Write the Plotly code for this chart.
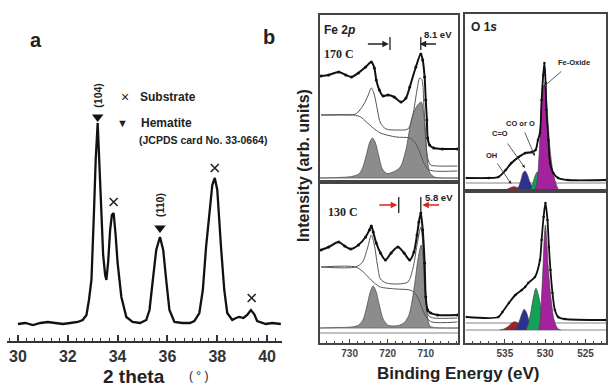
import plotly.graph_objects as go

W, H = 608, 386
FONT = "Liberation Sans, Arial, sans-serif"
SERIF = "Liberation Serif, Times New Roman, serif"


def px(x):
    return x / W


def py(y):
    return 1 - y / H


# ---------------- Panel a: XRD ----------------
two_theta = [30.0, 30.3, 30.6, 30.9, 31.2, 31.5, 31.8, 32.1, 32.4, 32.6, 32.75, 32.85,
             32.95, 33.05, 33.12, 33.2, 33.28, 33.35, 33.42, 33.5, 33.55, 33.62, 33.7,
             33.77, 33.84, 33.92, 34.0, 34.15, 34.35, 34.6, 34.9, 35.15, 35.28, 35.4,
             35.55, 35.7, 35.83, 35.95, 36.08, 36.28, 36.6, 36.9, 37.08, 37.28, 37.42,
             37.55, 37.7, 37.8, 37.9, 38.0, 38.15, 38.28, 38.4, 38.6, 38.75, 38.88,
             39.05, 39.2, 39.35, 39.48, 39.6, 39.8, 39.95, 40.2, 40.55]
xrd_intensity = [17, 18, 16, 18, 19, 18, 17, 18, 19, 21, 26, 41,
                 61, 128, 181, 218, 171, 121, 86, 66, 61, 79, 111,
                 126, 128, 106, 78, 44, 24, 19, 18, 21, 31, 58,
                 91, 104, 91, 61, 31, 19, 18, 18, 20, 28, 51,
                 94, 136, 156, 163, 151, 94, 51, 28, 21, 23, 24,
                 23, 26, 31, 27, 20, 18, 17, 18, 17]
hematite_theta = [33.2, 35.7]
hematite_mark = [224, 113]
hematite_hkl = ["(104)", "(110)"]
hkl_y = [246, 136]
substrate_theta = [33.84, 37.9, 39.38]
substrate_mark = [139, 173, 43]

# ---------------- Panel b: Fe 2p ----------------
# 170 C
fe170_raw_e = [737.5, 735.5, 732.9, 731.0, 729.5, 727.7, 725.8, 724.3, 723.5, 723.0, 722.2,
               721.2, 719.9, 718.3, 716.5, 715.2, 714.2, 712.6, 711.3, 710.8, 710.3, 710.0,
               709.7, 709.5, 709.0, 707.9, 705.6, 701.7]
fe170_raw_i = [106, 107, 110, 107, 105, 109, 115, 120, 114, 102, 92,
               86, 87, 85, 80, 84, 95, 115, 128, 122, 105, 82,
               62, 44, 37, 34, 33, 33]
fe170_env_e = [737.5, 732.9, 728.4, 726.4, 725.1, 724.3, 723.5, 722.7, 721.9, 720.4, 717.3,
               714.7, 713.4, 712.3, 711.6, 711.0, 710.5, 710.0, 709.5, 708.7, 706.9, 701.7]
fe170_env_i = [67, 67, 68, 77, 87, 94, 87, 72, 59, 53, 52,
               53, 67, 92, 104, 102, 77, 42, 24, 17, 16, 16]
fe170_bg_e = [737.5, 729.0, 727.1, 725.6, 723.8, 721.9, 717.8, 714.2, 712.9, 711.6, 710.5,
              709.5, 707.9, 701.7]
fe170_bg_i = [67, 67, 65, 60, 54, 49, 45, 44, 40, 30, 19, 13, 11, 11]
fe170_fit_e = [737.8, 733, 729.5, 727.6, 726.6, 725.6, 724.7, 724.0, 723.3, 722.4, 721.4, 720.2,
               718.6, 717.2, 716.4, 715.1, 714.2, 713.4, 712.3, 711.2, 710.3, 709.9, 709.5,
               708.9, 707.7, 705, 701.4]
fe170_fit_i = [4, 4.5, 5.5, 8, 14, 27, 40, 44, 40, 27, 13, 8.5,
               10, 13, 17, 34, 54, 67, 76, 80, 60, 37, 20,
               9, 5, 4, 4]
fe170_shift = [719.4, 711.3]

# 130 C
fe130_raw_e = [737.5, 735.5, 732.9, 731.3, 729.7, 727.7, 725.8, 724.8, 724.3, 723.8, 723.0,
               721.9, 720.6, 719.1, 717.3, 715.7, 714.2, 713.1, 712.3, 711.8, 711.3, 710.8,
               710.3, 710.0, 709.5, 708.7, 706.9, 701.7]
fe130_raw_i = [93, 96, 101, 97, 94, 98, 106, 113, 117, 111, 100,
               90, 83, 90, 96, 90, 83, 91, 108, 121, 130, 113,
               80, 46, 33, 30, 28, 28]
fe130_env_e = [737.5, 728.4, 726.6, 725.3, 724.3, 723.5, 722.7, 721.9, 720.4, 717.3, 714.7,
               713.4, 712.3, 711.3, 710.8, 710.3, 709.7, 709.2, 707.9, 701.7]
fe130_env_i = [76, 76, 81, 95, 108, 98, 78, 64, 60, 59, 61,
               74, 98, 116, 100, 55, 35, 27, 25, 25]
fe130_bg_e = [737.5, 728.4, 726.4, 725.1, 723.5, 721.9, 717.8, 714.2, 712.9, 711.8, 710.8,
              709.7, 708.4, 701.7]
fe130_bg_i = [76, 76, 71, 66, 60, 56, 54, 53, 50, 43, 33, 25, 21, 21]
fe130_fit_e = [737.8, 733, 729.5, 727.6, 726.4, 725.4, 724.5, 723.8, 723.1, 722.2, 721.2, 720.0,
               718.6, 716.8, 715.5, 714.4, 713.6, 712.8, 712.0, 711.2, 710.5, 710.0, 709.5,
               708.9, 708.0, 705, 701.4]
fe130_fit_i = [15, 15.5, 16, 18, 24, 38, 52, 57, 52, 38, 24, 18,
               17, 18, 21, 28, 42, 62, 85, 98, 80, 48, 25,
               17, 15.5, 15, 15]
fe130_shift = [717.1, 711.3]

# ---------------- Panel b: O 1s ----------------
o170_raw_e = [539.75, 537.0, 535.8, 534.9, 534.2, 533.3, 532.5, 531.7, 531.2, 530.9, 530.65,
              530.45, 530.25, 530.1, 529.95, 529.85, 529.6, 529.4, 529.0, 528.4, 527.2, 522.5]
o170_raw_i = [13, 13, 14, 21, 28, 34, 38, 39, 41, 51, 58,
              91, 116, 128, 108, 81, 51, 28, 18, 13, 11, 11]
o170_env_i = [13, 13, 14, 20, 27, 33, 37, 38, 40, 50, 60,
              90, 115, 125, 110, 82, 52, 29, 18, 13, 11, 11]
o170_base = [8, 8]
o_peak_names = ["OH", "C=O", "CO or O", "Fe-Oxide"]
o170_oh_e = [535.4, 535.0, 534.6, 534.2, 533.9, 533.5, 533.1, 532.7, 532.4]
o170_oh_i = [0, 0.8, 2.2, 3.7, 4.3, 3.6, 2.0, 0.7, 0]
o170_co_e = [533.6, 533.3, 533.0, 532.75, 532.5, 532.2, 531.9, 531.5, 531.0]
o170_co_i = [0, 4, 11, 18, 20, 16, 9, 3, 0]
o170_c_o_e = [531.9, 531.6, 531.3, 531.0, 530.7, 530.4, 530.1, 529.8]
o170_c_o_i = [0, 6, 14, 19, 15, 8, 3, 0]
o170_feo_e = [531.3, 531.0, 530.8, 530.6, 530.4, 530.15, 529.9, 529.65, 529.4, 529.1, 528.8, 528.4, 528.1]
o170_feo_i = [0, 10, 30, 62, 92, 106, 97, 68, 41, 22, 11, 2, 0]

o130_raw_e = [539.75, 535.8, 535.3, 534.5, 533.7, 532.9, 532.5, 532.1, 531.27, 530.65, 530.45,
              530.2, 529.97, 529.72, 529.54, 529.35, 529.1, 528.8, 528.4, 527.6, 522.5]
o130_raw_i = [26, 26, 31, 40, 48, 53, 56, 60, 66, 83, 103,
              126, 140, 123, 96, 73, 50, 33, 26, 24, 23]
o130_base = [20, 20]
o130_oh_e = [535.6, 535.1, 534.6, 534.2, 533.8, 533.4, 533.0, 532.6, 532.3]
o130_oh_i = [13, 14, 16.5, 19.5, 21.3, 20, 17, 14.5, 13]
o130_co_e = [533.8, 533.5, 533.2, 532.9, 532.6, 532.3, 532.0, 531.7, 531.4]
o130_co_i = [13, 16, 22, 29, 33.7, 30, 22, 16, 13]
o130_c_o_e = [532.4, 532.1, 531.8, 531.5, 531.15, 530.85, 530.5, 530.2, 529.8, 529.4]
o130_c_o_i = [13, 19, 30, 44, 54.7, 48, 34, 22, 15, 13]
o130_feo_e = [530.8, 530.65, 530.45, 530.25, 530.1, 529.97, 529.8, 529.63, 529.3, 528.9, 528.5, 528.1]
o130_feo_i = [13, 20, 46, 80, 108, 118, 100, 76, 46, 23, 15, 13]

FE_RANGE = [737.8, 701.4]
O_RANGE = [539.88, 522.47]
fill_colors = ["#a3202a", "#2e318f", "#14a058", "#a5229f"]

fig = go.Figure()

# XRD
fig.add_trace(go.Scatter(x=two_theta, y=xrd_intensity, mode="lines",
                         line=dict(color="#111", width=2.3), xaxis="x", yaxis="y"))
fig.add_trace(go.Scatter(x=hematite_theta, y=hematite_mark, mode="markers",
                         marker=dict(symbol="triangle-down", size=10, color="#111"),
                         xaxis="x", yaxis="y"))
fig.add_trace(go.Scatter(x=substrate_theta, y=substrate_mark, mode="markers",
                         marker=dict(symbol="x-thin", size=8, line=dict(width=1.6, color="#222")),
                         xaxis="x", yaxis="y"))


def line(xs, ys, xa, ya, color="#111", width=1.0, shape="spline", mode="lines", msize=3):
    fig.add_trace(go.Scatter(x=xs, y=ys, mode=mode, xaxis=xa, yaxis=ya,
                             line=dict(color=color, width=width, shape=shape, smoothing=0.8),
                             marker=dict(size=msize, color=color)))


def filled(xs, ys, xa, ya, color, outline="#444"):
    fig.add_trace(go.Scatter(x=xs, y=ys, mode="lines", fill="toself", fillcolor=color,
                             xaxis=xa, yaxis=ya,
                             line=dict(color=outline, width=0.7, shape="spline", smoothing=0.8)))


# Fe 2p 170 C (x2/y2)
filled(fe170_fit_e, fe170_fit_i, "x2", "y2", "#8c8c8c")
line([FE_RANGE[0], FE_RANGE[1]], [4, 4], "x2", "y2", "#666", 0.8, "linear")
line(fe170_bg_e, fe170_bg_i, "x2", "y2", "#555", 1.0)
line(fe170_env_e, fe170_env_i, "x2", "y2", "#555", 1.0)
line(fe170_raw_e, fe170_raw_i, "x2", "y2", "#111", 2.0, "spline", "lines+markers", 3)

# Fe 2p 130 C (x3/y3)
filled(fe130_fit_e, fe130_fit_i, "x3", "y3", "#8c8c8c")
line([FE_RANGE[0], FE_RANGE[1]], [15, 15], "x3", "y3", "#666", 0.8, "linear")
line([FE_RANGE[0], FE_RANGE[1]], [10, 10], "x3", "y3", "#666", 0.8, "linear")
line(fe130_bg_e, fe130_bg_i, "x3", "y3", "#555", 1.0)
line(fe130_env_e, fe130_env_i, "x3", "y3", "#555", 1.0)
line(fe130_raw_e, fe130_raw_i, "x3", "y3", "#111", 2.0, "spline", "lines+markers", 3)

# O 1s 170 C (x4/y4)
line([O_RANGE[0], O_RANGE[1]], o170_base, "x4", "y4", "#666", 0.8, "linear")
for (ex, iy), c in zip([(o170_oh_e, o170_oh_i), (o170_co_e, o170_co_i),
                        (o170_c_o_e, o170_c_o_i), (o170_feo_e, o170_feo_i)], fill_colors):
    filled(ex, iy, "x4", "y4", c)
line(o170_raw_e, o170_env_i, "x4", "y4", "#444", 1.0)
line(o170_raw_e, o170_raw_i, "x4", "y4", "#111", 1.8, "spline", "lines+markers", 2.5)

# O 1s 130 C (x5/y5)
line([O_RANGE[0], O_RANGE[1]], [13, 13], "x5", "y5", "#666", 0.8, "linear")
line([O_RANGE[0], O_RANGE[1]], o130_base, "x5", "y5", "#666", 0.8, "linear")
for (ex, iy), c in zip([(o130_oh_e, o130_oh_i), (o130_co_e, o130_co_i),
                        (o130_c_o_e, o130_c_o_i), (o130_feo_e, o130_feo_i)], fill_colors):
    filled(ex, iy, "x5", "y5", c)
line(o130_raw_e, o130_raw_i, "x5", "y5", "#111", 1.8, "spline", "lines+markers", 2.5)

frame = dict(showline=True, linecolor="#444", linewidth=1.5, mirror=True,
             showgrid=False, zeroline=False, showticklabels=False, ticks="")
tickfont = dict(family=FONT, size=10, color="#444", weight="bold")

fig.update_layout(
    width=W, height=H, margin=dict(l=0, r=0, t=0, b=0),
    paper_bgcolor="white", plot_bgcolor="rgba(0,0,0,0)", showlegend=False,
    xaxis=dict(domain=[px(7), px(283)], range=[29.56, 40.6], anchor="y",
               showline=True, linecolor="#333", linewidth=1.5, showgrid=False, zeroline=False,
               ticks="inside", ticklen=6, tickwidth=1.5, tickcolor="#333", tick0=30, dtick=2,
               minor=dict(dtick=1 / 3, ticks="inside", ticklen=3, tickwidth=1, tickcolor="#333"),
               tickfont=dict(family=FONT, size=16, color="#333", weight="bold")),
    yaxis=dict(domain=[py(341), py(14)], range=[0, 327], visible=False),
    xaxis2=dict(domain=[px(321), px(460)], range=FE_RANGE, anchor="y2", **frame),
    yaxis2=dict(domain=[py(182), py(15)], range=[0, 167], anchor="x2", **frame),
    xaxis3=dict(domain=[px(321), px(460)], range=FE_RANGE, anchor="y3",
                showline=True, linecolor="#444", linewidth=1.5, mirror=True, showgrid=False,
                zeroline=False, ticks="inside", ticklen=4, tickwidth=1.2, tickcolor="#444",
                tick0=730, dtick=10,
                minor=dict(dtick=2, ticks="inside", ticklen=2.5, tickwidth=1, tickcolor="#444"),
                tickfont=tickfont),
    yaxis3=dict(domain=[py(343), py(182)], range=[0, 161], anchor="x3", **frame),
    xaxis4=dict(domain=[px(467), 1], range=O_RANGE, anchor="y4", **frame),
    yaxis4=dict(domain=[py(191), py(14)], range=[0, 177], anchor="x4", **frame),
    xaxis5=dict(domain=[px(467), 1], range=O_RANGE, anchor="y5",
                showline=True, linecolor="#444", linewidth=1.5, mirror=True, showgrid=False,
                zeroline=False, ticks="inside", ticklen=4, tickwidth=1.2, tickcolor="#444",
                tick0=535, dtick=5,
                minor=dict(dtick=1, ticks="inside", ticklen=2.5, tickwidth=1, tickcolor="#444"),
                tickfont=tickfont),
    yaxis5=dict(domain=[py(343), py(191)], range=[0, 152], anchor="x5", **frame),
)

ann = []


def text(x, y, t, size=12, xref="paper", yref="paper", xanchor="center", family=FONT,
         color="#222", angle=0, bold=True):
    ann.append(dict(x=x, y=y, text=(f"<b>{t}</b>" if bold else t), xref=xref, yref=yref,
                    xanchor=xanchor, yanchor="middle", showarrow=False, textangle=angle,
                    font=dict(family=family, size=size, color=color)))


# panel a texts
text(px(36), py(40), "a", 20)
text(px(270), py(37), "b", 20)
text(px(125), py(97), "×", 14, bold=False)
text(px(138), py(97), "Substrate", 12, xanchor="left")
text(px(123), py(123), "▼", 11, bold=False)
text(px(139), py(123), "Hematite", 12, xanchor="left")
text(px(137), py(140), "(JCPDS card No. 33-0664)", 10.5, xanchor="left")
for th, yy, lab in zip(hematite_theta, hkl_y, hematite_hkl):
    text(th, yy, lab, 10.5, xref="x", yref="y", angle=-90)
text(px(134), py(376), "2 theta", 19)
text(px(199), py(376), "( ° )", 12, bold=False)

# panel b titles
text(px(304), py(166), "Intensity (arb. units)", 16, angle=-90)
text(px(460), py(373), "Binding Energy (eV)", 17)

# Fe 2p labels
text(737.3, 152, "Fe 2<i>p</i>", 12, "x2", "y2", "left")
text(737.3, 128, "170 C", 12, "x2", "y2", "left", SERIF)
text(706.9, 148, "8.1 eV", 9.5, "x2", "y2")
text(736.2, 131, "130 C", 12, "x3", "y3", "left", SERIF)
text(706.4, 146, "5.8 eV", 9.5, "x3", "y3")


def arrow(x0, x1, y, xa, ya, color):
    ann.append(dict(x=x1, y=y, ax=x0, ay=y, xref=xa, yref=ya, axref=xa, ayref=ya,
                    showarrow=True, arrowhead=2, arrowsize=1, arrowwidth=1.3,
                    arrowcolor=color, text=""))


arrow(725.6, 719.7, 138, "x2", "y2", "#222")
arrow(706.9, 711.6, 138, "x2", "y2", "#222")
arrow(722.6, 717.5, 138, "x3", "y3", "#e0201c")
arrow(706.1, 710.9, 138, "x3", "y3", "#e0201c")

shapes = []
for e in fe170_shift:
    shapes.append(dict(type="line", xref="x2", yref="y2", x0=e, x1=e, y0=132, y1=145,
                       line=dict(color="#222", width=1.3)))
for e in fe130_shift:
    shapes.append(dict(type="line", xref="x3", yref="y3", x0=e, x1=e, y0=130, y1=146,
                       line=dict(color="#222", width=1.3)))

# O 1s labels
text(539.5, 164, "O 1<i>s</i>", 12, "x4", "y4", "left")
label_pos = [(536.7, 36), (535.6, 58), (533.1, 68), (526.4, 129)]
arrow_pts = [((536.05, 29), (534.2, 7)), ((534.8, 49), (532.5, 23)),
             ((532.6, 60), (531.3, 35)), ((527.8, 121), (530.25, 104))]
for name, (lx, ly), ((tx, ty), (hx, hy)) in zip(o_peak_names, label_pos, arrow_pts):
    text(lx, ly, name, 7.5, "x4", "y4")
    ann.append(dict(x=hx, y=hy, ax=tx, ay=ty, xref="x4", yref="y4", axref="x4", ayref="y4",
                    showarrow=True, arrowhead=2, arrowsize=0.8, arrowwidth=0.8,
                    arrowcolor="#333", text=""))

fig.update_layout(annotations=ann, shapes=shapes)
fig.write_html("out.html", config={"displayModeBar": False},
               post_script="document.body.style.margin='0';document.body.style.overflow='hidden';")
